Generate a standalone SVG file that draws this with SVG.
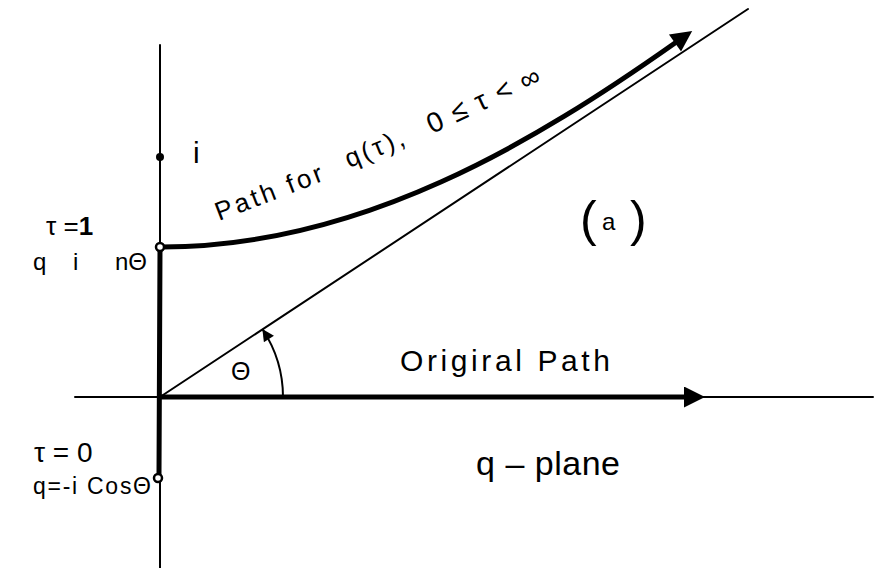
<svg xmlns="http://www.w3.org/2000/svg" width="878" height="568" viewBox="0 0 878 568">
  <style>
    .thin { stroke: #000; stroke-width: 2; fill: none; stroke-linecap: round; }
    .thick { stroke: #000; stroke-width: 5; fill: none; stroke-linecap: round; }
    .lbl { font-family: "Liberation Sans", "DejaVu Sans", sans-serif; fill: #000; }
  </style>
  <defs>
    <marker id="ah" viewBox="0 0 10 10" refX="0" refY="5" markerUnits="userSpaceOnUse" markerWidth="29" markerHeight="21" orient="auto">
      <path d="M0,0 L10,5 L0,10 z" fill="#000"/>
    </marker>
    <marker id="ahs" viewBox="0 0 10 10" refX="9" refY="5" markerUnits="userSpaceOnUse" markerWidth="16" markerHeight="12" orient="auto">
      <path d="M0,0 L10,5 L0,10 z" fill="#000"/>
    </marker>
  </defs>
  <rect width="878" height="568" fill="#fff"/>

  <g id="connectors">
    <line id="imag-axis" class="thin" x1="160" y1="45" x2="160" y2="568"/>
    <line id="real-axis" class="thin" x1="75" y1="397" x2="873" y2="397"/>
    <line id="ray" class="thin" x1="160" y1="397" x2="748" y2="9"/>
    <line id="tau-segment" class="thick" x1="160" y1="249" x2="159" y2="474" stroke-width="6"/>
    <line id="original-path" class="thick" x1="160" y1="397" x2="684" y2="397" marker-end="url(#ah)"/>
    <path id="tau-path" class="thick" d="M162,247 C362,247 536,141 675,43" marker-end="url(#ah)"/>
    <path id="angle-arc" class="thin" d="M283,397 A123,123 0 0 0 263,330" marker-end="url(#ahs)"/>
  </g>

  <g id="point-i">
    <circle cx="160" cy="157" r="4" fill="#000"/>
    <text class="lbl" x="193" y="163" font-size="30">i</text>
  </g>

  <g id="point-tau1">
    <circle cx="160" cy="247" r="4" fill="#fff" stroke="#000" stroke-width="2.5"/>
    <text class="lbl" x="46" y="235" font-size="26">τ =<tspan font-weight="bold">1</tspan></text>
    <text class="lbl" x="33" y="270" font-size="24">q<tspan x="73">i</tspan><tspan x="115">nΘ</tspan></text>
  </g>

  <g id="point-tau0">
    <circle cx="158" cy="478" r="4" fill="#fff" stroke="#000" stroke-width="2.5"/>
    <text class="lbl" x="34" y="462" font-size="28">τ = 0</text>
    <text class="lbl" x="33" y="494" font-size="23" textLength="118" lengthAdjust="spacing">q=-i CosΘ</text>
  </g>

  <g id="path-label">
    <text class="lbl" font-size="26" transform="translate(219,221) rotate(-21)" textLength="113" lengthAdjust="spacing">Path for</text>
    <text class="lbl" font-size="26" transform="translate(349,168) rotate(-22)" textLength="62" lengthAdjust="spacing">q(τ),</text>
    <text class="lbl" font-size="28" transform="translate(432,134) rotate(-25)" textLength="122" lengthAdjust="spacing">0≤τ&lt;∞</text>
  </g>

  <g id="angle-label">
    <text class="lbl" x="231" y="380" font-size="25">Θ</text>
  </g>

  <g id="original-label">
    <text class="lbl" x="400" y="371" font-size="30" textLength="210" lengthAdjust="spacing">Origiral  Path</text>
  </g>

  <g id="plane-label">
    <text class="lbl" x="476" y="475" font-size="34" textLength="144" lengthAdjust="spacing">q – plane</text>
  </g>

  <g id="panel-label">
    <text class="lbl" x="580" y="236"><tspan font-size="50">(</tspan><tspan font-size="24" x="602" dy="-6">a</tspan><tspan font-size="50" x="630" dy="6">)</tspan></text>
  </g>
</svg>
